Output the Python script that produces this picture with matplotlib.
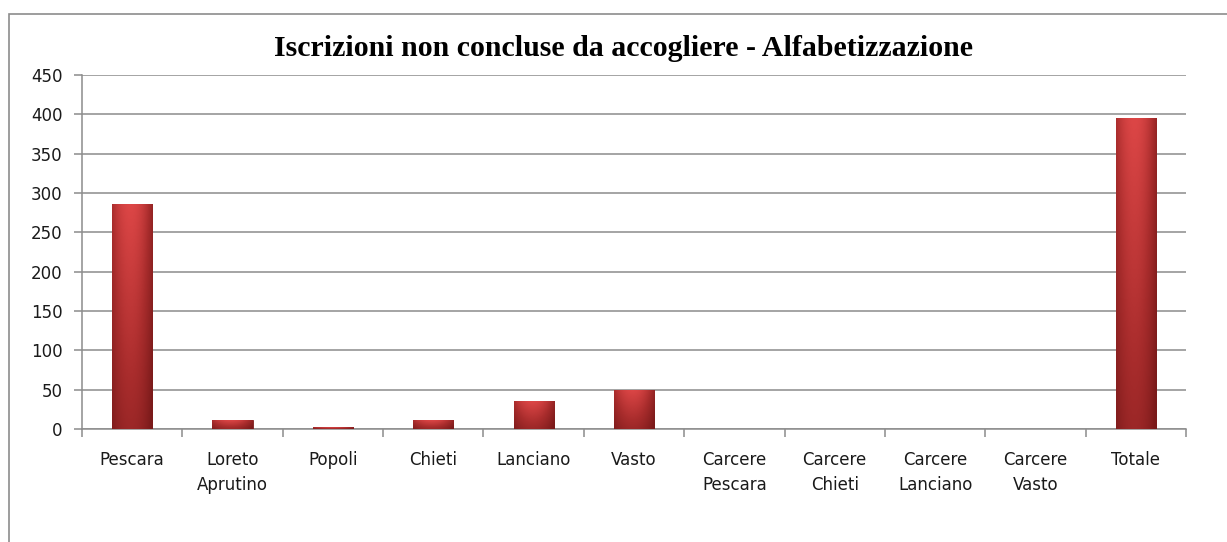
import numpy as np
import matplotlib.pyplot as plt
from matplotlib.patches import Rectangle

categories = ["Pescara", "Loreto\nAprutino", "Popoli", "Chieti", "Lanciano", "Vasto",
              "Carcere\nPescara", "Carcere\nChieti", "Carcere\nLanciano", "Carcere\nVasto", "Totale"]
values = [286, 11, 2, 11, 35, 50, 0, 0, 0, 0, 395]
yticks = [0, 50, 100, 150, 200, 250, 300, 350, 400, 450]

fig = plt.figure(figsize=(12.27, 5.42), dpi=100)
ax = fig.add_axes([82 / 1227, 1 - 429 / 542, (1186 - 82) / 1227, (429 - 75) / 542])

# chart frame (cut off at right and bottom like the original)
fig.patches.append(Rectangle((9 / 1227, -0.1), 1.2, 1 - 14 / 542 + 0.1,
                             transform=fig.transFigure, fill=False,
                             edgecolor="#8c8c8c", linewidth=1.2))

x = np.arange(len(categories))
bars = ax.bar(x, values, width=0.4, color="#c23a3a", edgecolor="#7a1c1c",
              linewidth=0.6, zorder=3)

# shaded look for the bars: lighter on top, darker at the bottom and sides
h = np.linspace(0, 1, 64)
horiz = 1 - 0.35 * np.abs(h - 0.45) ** 2 * 4
vert = np.linspace(0.62, 1.0, 64)[:, None]
shade = horiz[None, :] * vert
cmap = plt.matplotlib.colors.LinearSegmentedColormap.from_list(
    "bar", ["#7a1a1a", "#a82c2c", "#dc4646"])
for b in bars:
    if b.get_height() <= 0:
        continue
    x0, w, hgt = b.get_x(), b.get_width(), b.get_height()
    im = ax.imshow(shade, extent=(x0, x0 + w, 0, hgt), origin="lower",
                   cmap=cmap, vmin=0.4, vmax=1.0, aspect="auto", zorder=3.5)
    im.set_clip_path(b)

ax.set_xlim(-0.5, len(categories) - 0.5)
ax.set_ylim(0, 450)
ax.set_yticks(yticks)
ax.set_yticklabels([str(t) for t in yticks])
ax.yaxis.grid(True, color="#8c8c8c", linewidth=1.1, zorder=0)
ax.set_axisbelow(True)

ax.set_xticks(x)
ax.set_xticklabels(categories, fontsize=12, color="#1a1a1a", linespacing=1.45)
ax.set_xticks(np.arange(-0.5, len(categories)), minor=True)
ax.tick_params(axis="x", which="major", length=0, pad=16)
ax.tick_params(axis="x", which="minor", length=6, color="#8c8c8c", width=1.1)
ax.tick_params(axis="y", length=6, color="#8c8c8c", width=1.1, labelsize=12,
               labelcolor="#1a1a1a", pad=8)

for s in ["top", "right"]:
    ax.spines[s].set_visible(False)
for s in ["left", "bottom"]:
    ax.spines[s].set_color("#8c8c8c")
    ax.spines[s].set_linewidth(1.1)

fig.text(0.508, 1 - 48 / 542, "Iscrizioni non concluse da accogliere - Alfabetizzazione",
         ha="center", va="center", fontsize=21.5, fontweight="bold",
         family="Liberation Serif")

fig.savefig("out.png", dpi=100)
